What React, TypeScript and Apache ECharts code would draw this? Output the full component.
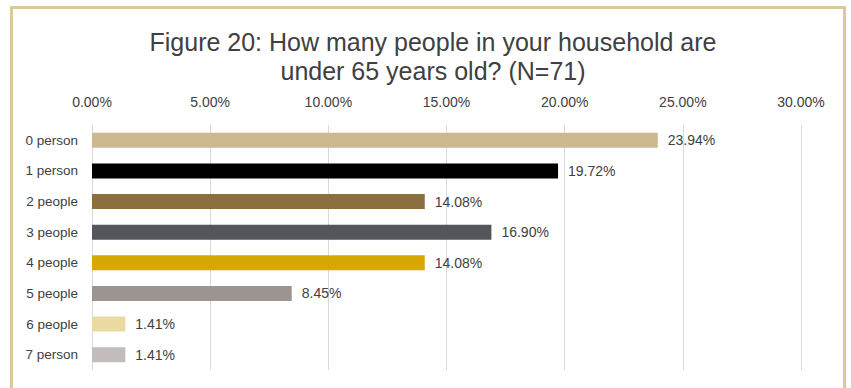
import React, { useEffect, useRef } from "react";
import * as echarts from "echarts";

const categories = ["0 person", "1 person", "2 people", "3 people", "4 people", "5 people", "6 people", "7 person"];
const values = [23.94, 19.72, 14.08, 16.9, 14.08, 8.45, 1.41, 1.41];
const barColors = ["#CDB891", "#000000", "#8B6F3E", "#53565A", "#D6A800", "#9C9490", "#EAD9A0", "#C2BDBB"];
const titleText = "Figure 20: How many people in your household are\nunder 65 years old? (N=71)";

const FONT = "'Liberation Sans', Arial, sans-serif";

export default function App() {
  const ref = useRef<HTMLDivElement>(null);
  useEffect(() => {
    if (!ref.current) return;
    const chart = echarts.init(ref.current, undefined, { renderer: "svg" });
    chart.setOption({
      animation: false,
      backgroundColor: "#ffffff",
      title: {
        text: titleText,
        left: 428,
        textAlign: "center",
        top: 22,
        textStyle: {
          fontFamily: FONT,
          fontSize: 25,
          fontWeight: "normal",
          color: "#404040",
          lineHeight: 29,
        },
      },
      graphic: [
        {
          type: "rect",
          shape: { x: 11.5, y: 7.5, width: 833, height: 420 },
          style: { fill: "none", stroke: "#DCC89A", lineWidth: 3 },
          silent: true,
        },
      ],
      grid: { left: 92, top: 125, width: 709, height: 245, containLabel: false },
      xAxis: {
        type: "value",
        position: "top",
        min: 0,
        max: 30,
        interval: 5,
        axisLine: { show: false },
        axisTick: { show: false },
        axisLabel: {
          margin: 16,
          fontFamily: FONT,
          fontSize: 14,
          color: "#404040",
          formatter: (v: number) => v.toFixed(2) + "%",
        },
        splitLine: { show: true, lineStyle: { color: "#D9D9D9", width: 1 } },
      },
      yAxis: {
        type: "category",
        data: categories,
        inverse: true,
        axisLine: { show: false },
        axisTick: { show: false },
        axisLabel: {
          margin: 14,
          fontFamily: FONT,
          fontSize: 13.5,
          color: "#404040",
        },
      },
      series: [
        {
          type: "bar",
          data: values.map((v, i) => ({ value: v, itemStyle: { color: barColors[i] } })),
          barCategoryGap: "51%",
          label: {
            show: true,
            position: "right",
            distance: 10,
            fontFamily: FONT,
            fontSize: 14,
            color: "#404040",
            formatter: (p: any) => Number(p.value).toFixed(2) + "%",
          },
        },
      ],
    });
    return () => chart.dispose();
  }, []);
  return (
    <div
      ref={ref}
      style={{ position: "fixed", left: 0, top: 0, width: 851, height: 388 }}
    />
  );
}
